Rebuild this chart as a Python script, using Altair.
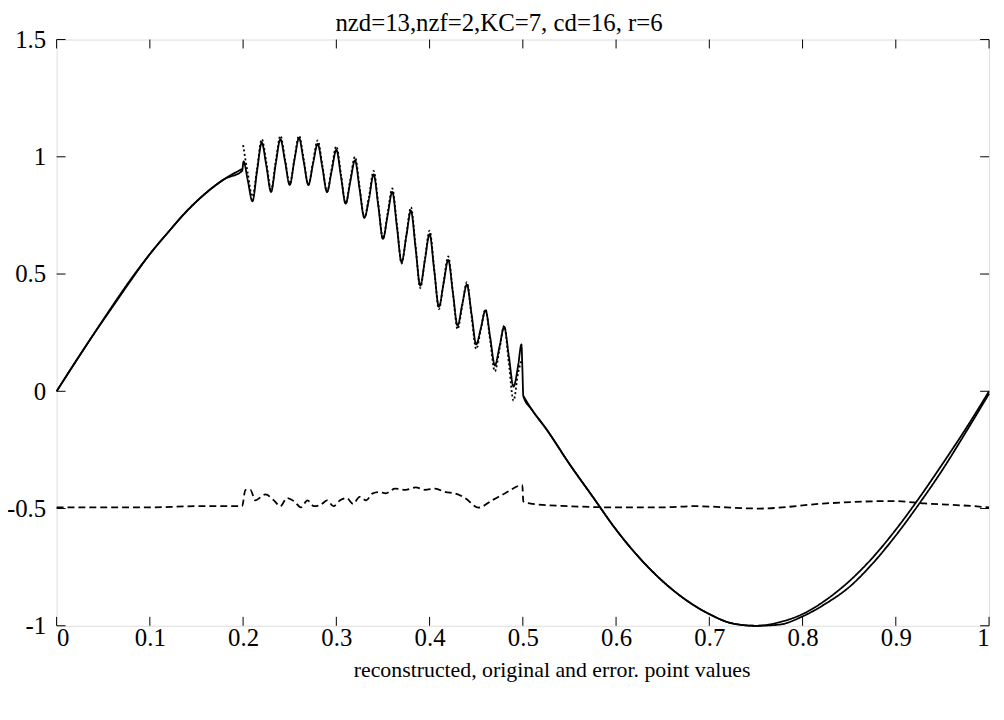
import altair as alt
import pandas as pd

# ---- reconstructed values (solid) ----
rec_x = [0, 0.02, 0.04, 0.06, 0.08, 0.10, 0.12, 0.14, 0.16, 0.18, 0.199,
         0.2005, 0.205, 0.21, 0.215, 0.22, 0.225, 0.23, 0.235, 0.24, 0.245,
         0.25, 0.255, 0.26, 0.265, 0.27, 0.275, 0.28, 0.285, 0.29, 0.295,
         0.30, 0.305, 0.31, 0.315, 0.32, 0.325, 0.33, 0.335, 0.34, 0.345,
         0.35, 0.355, 0.36, 0.365, 0.37, 0.375, 0.38, 0.385, 0.39, 0.395,
         0.40, 0.405, 0.41, 0.415, 0.42, 0.425, 0.43, 0.435, 0.44, 0.445,
         0.45, 0.455, 0.46, 0.465, 0.47, 0.475, 0.48, 0.485, 0.49, 0.495,
         0.4985, 0.4995,
         0.5005, 0.51, 0.525, 0.55, 0.575, 0.60, 0.625, 0.65, 0.675, 0.70,
         0.725, 0.75, 0.775, 0.80, 0.825, 0.85, 0.875, 0.90, 0.925, 0.95,
         0.975, 1.0]
rec_y = [0, 0.125, 0.245, 0.365, 0.48, 0.585, 0.68, 0.77, 0.845, 0.905, 0.94,
         0.98, 0.90, 0.81, 0.94, 1.06, 0.96, 0.85, 0.97, 1.075, 0.98,
         0.88, 0.985, 1.08, 0.98, 0.88, 0.97, 1.055, 0.955, 0.85, 0.94,
         1.03, 0.915, 0.80, 0.895, 0.985, 0.86, 0.74, 0.82, 0.925, 0.79,
         0.65, 0.75, 0.85, 0.70, 0.55, 0.66, 0.77, 0.61, 0.45, 0.56,
         0.67, 0.515, 0.36, 0.46, 0.56, 0.42, 0.28, 0.37, 0.455, 0.33,
         0.20, 0.27, 0.345, 0.23, 0.11, 0.19, 0.275, 0.15, 0.02, 0.11,
         0.20, 0.10,
         -0.02, -0.08, -0.16, -0.31, -0.45, -0.59, -0.71, -0.81, -0.89, -0.95,
         -0.99, -1.0, -0.995, -0.96, -0.905, -0.835, -0.735, -0.615, -0.48, -0.335,
         -0.175, -0.01]

# ---- original values ----
org_left_x = [0, 0.02, 0.04, 0.06, 0.08, 0.10, 0.12, 0.14, 0.16, 0.18, 0.199]
org_left_y = [0, 0.123, 0.245, 0.36, 0.475, 0.585, 0.68, 0.77, 0.845, 0.905, 0.948]

org_osc_x = [0.2, 0.205, 0.21, 0.215, 0.22, 0.225, 0.23, 0.235, 0.24, 0.245,
             0.25, 0.255, 0.26, 0.265, 0.27, 0.275, 0.28, 0.285, 0.29, 0.295,
             0.30, 0.305, 0.31, 0.315, 0.32, 0.325, 0.33, 0.335, 0.34, 0.345,
             0.35, 0.355, 0.36, 0.365, 0.37, 0.375, 0.38, 0.385, 0.39, 0.395,
             0.40, 0.405, 0.41, 0.415, 0.42, 0.425, 0.43, 0.435, 0.44, 0.445,
             0.45, 0.455, 0.46, 0.465, 0.47, 0.475, 0.48, 0.485, 0.49, 0.495,
             0.4995]
org_osc_y = [1.05, 0.93, 0.83, 0.95, 1.075, 0.975, 0.86, 0.98, 1.09, 0.99,
             0.885, 0.99, 1.09, 0.99, 0.88, 0.98, 1.07, 0.965, 0.85, 0.95,
             1.045, 0.925, 0.80, 0.905, 1.0, 0.87, 0.74, 0.83, 0.94, 0.80,
             0.65, 0.76, 0.865, 0.71, 0.545, 0.665, 0.785, 0.62, 0.44, 0.565,
             0.685, 0.52, 0.35, 0.465, 0.575, 0.42, 0.265, 0.365, 0.465, 0.32,
             0.18, 0.265, 0.35, 0.215, 0.085, 0.18, 0.28, 0.12, -0.04, 0.08,
             0.14]

org_right_x = [0.5005, 0.51, 0.525, 0.55, 0.575, 0.60, 0.625, 0.65, 0.675, 0.70,
               0.725, 0.75, 0.775, 0.80, 0.825, 0.85, 0.875, 0.90, 0.925, 0.95,
               0.975, 1.0]
org_right_y = [-0.02, -0.08, -0.16, -0.31, -0.45, -0.59, -0.71, -0.81, -0.89, -0.95,
               -0.99, -1.0, -0.985, -0.95, -0.89, -0.81, -0.71, -0.59, -0.455, -0.31,
               -0.16, 0.0]

# ---- error values (shown offset to -0.5) ----
err_x = [0, 0.05, 0.10, 0.15, 0.196, 0.199, 0.2025, 0.2078, 0.213, 0.224,
         0.233, 0.240, 0.247, 0.255, 0.262, 0.269, 0.276, 0.283, 0.290, 0.297,
         0.304, 0.311, 0.318, 0.325, 0.332, 0.339, 0.346, 0.353, 0.363, 0.374,
         0.385, 0.395, 0.406, 0.417, 0.427, 0.438, 0.4525, 0.467, 0.481, 0.4995,
         0.5005, 0.51, 0.55, 0.60, 0.65, 0.683, 0.754, 0.825, 0.896, 0.931,
         0.984, 1.0]
err_y = [-0.495, -0.495, -0.495, -0.49, -0.49, -0.49, -0.42, -0.42, -0.465, -0.44,
         -0.465, -0.49, -0.455, -0.47, -0.495, -0.465, -0.49, -0.485, -0.465, -0.49,
         -0.465, -0.455, -0.48, -0.45, -0.465, -0.435, -0.43, -0.435, -0.415, -0.42,
         -0.41, -0.42, -0.415, -0.43, -0.435, -0.455, -0.496, -0.465, -0.435, -0.40,
         -0.47, -0.48, -0.49, -0.495, -0.495, -0.49, -0.50, -0.478, -0.468, -0.478,
         -0.49, -0.495]

x_ticks = [0, 0.1, 0.2, 0.3, 0.4, 0.5, 0.6, 0.7, 0.8, 0.9, 1]
y_ticks = [-1, -0.5, 0, 0.5, 1, 1.5]

W, H = 940, 591
FONT = "Liberation Serif"

rows = []
def add(xs, ys, seg, style):
    for i, (a, b) in enumerate(zip(xs, ys)):
        rows.append({"x": a, "y": b, "seg": seg, "style": style, "i": i})

add(rec_x, rec_y, "rec", "solid")
add(org_left_x, org_left_y, "org1", "solid")
add(org_osc_x, org_osc_y, "org2", "dotted")
add(org_right_x, org_right_y, "org3", "solid")
add(err_x, err_y, "err", "dashed")
df = pd.DataFrame(rows)

xs = alt.Scale(domain=[0, 1], nice=False)
ys = alt.Scale(domain=[-1, 1.5], nice=False)

lines = alt.Chart(df).mark_line(color="black", strokeWidth=1.8,
                                interpolate="monotone").encode(
    x=alt.X("x:Q", scale=xs,
            axis=alt.Axis(values=x_ticks, labelExpr="toString(datum.value)",
                          title="reconstructed, original and error. point values",
                          ticks=False, domain=False, grid=False,
                          labelFont=FONT, labelFontSize=25, labelColor="black",
                          labelPadding=0, titleFont=FONT, titleFontSize=22,
                          titleFontWeight="normal", titleColor="black",
                          titlePadding=9, titleX=499, titleAlign="center")),
    y=alt.Y("y:Q", scale=ys,
            axis=alt.Axis(values=y_ticks, labelExpr="toString(datum.value)",
                          title=None, ticks=False, domain=False, grid=False,
                          labelFont=FONT, labelFontSize=25, labelColor="black",
                          labelPadding=11)),
    detail="seg:N",
    order="i:Q",
    strokeDash=alt.StrokeDash("style:N", legend=None,
                              scale=alt.Scale(domain=["solid", "dotted", "dashed"],
                                              range=[[1, 0], [2, 2.5], [7, 4]])),
)

xt = pd.DataFrame({"t": x_ticks})
yt = pd.DataFrame({"t": y_ticks})
tick_len = 9
bx = alt.Chart(xt).mark_rule(color="black", strokeWidth=1).encode(
    x=alt.X("t:Q", scale=xs), y=alt.value(H), y2=alt.value(H - tick_len))
tx = alt.Chart(xt).mark_rule(color="black", strokeWidth=1).encode(
    x=alt.X("t:Q", scale=xs), y=alt.value(0), y2=alt.value(tick_len))
ly = alt.Chart(yt).mark_rule(color="black", strokeWidth=1).encode(
    y=alt.Y("t:Q", scale=ys), x=alt.value(0), x2=alt.value(tick_len))
ry = alt.Chart(yt).mark_rule(color="black", strokeWidth=1).encode(
    y=alt.Y("t:Q", scale=ys), x=alt.value(W), x2=alt.value(W - tick_len))

chart = alt.layer(lines, bx, tx, ly, ry).properties(
    width=W, height=H,
    title=alt.TitleParams("nzd=13,nzf=2,KC=7, cd=16, r=6", font=FONT, fontSize=25,
                          fontWeight="normal", color="black", offset=-8, dx=-24),
    autosize=alt.AutoSizeParams(type="none"),
    padding={"left": 49, "top": 29, "right": 7, "bottom": 70},
).configure_view(stroke="black", strokeWidth=1.5).configure(
    background="white", font=FONT)

chart.save("out.html", embed_options={"renderer": "svg", "actions": False})
